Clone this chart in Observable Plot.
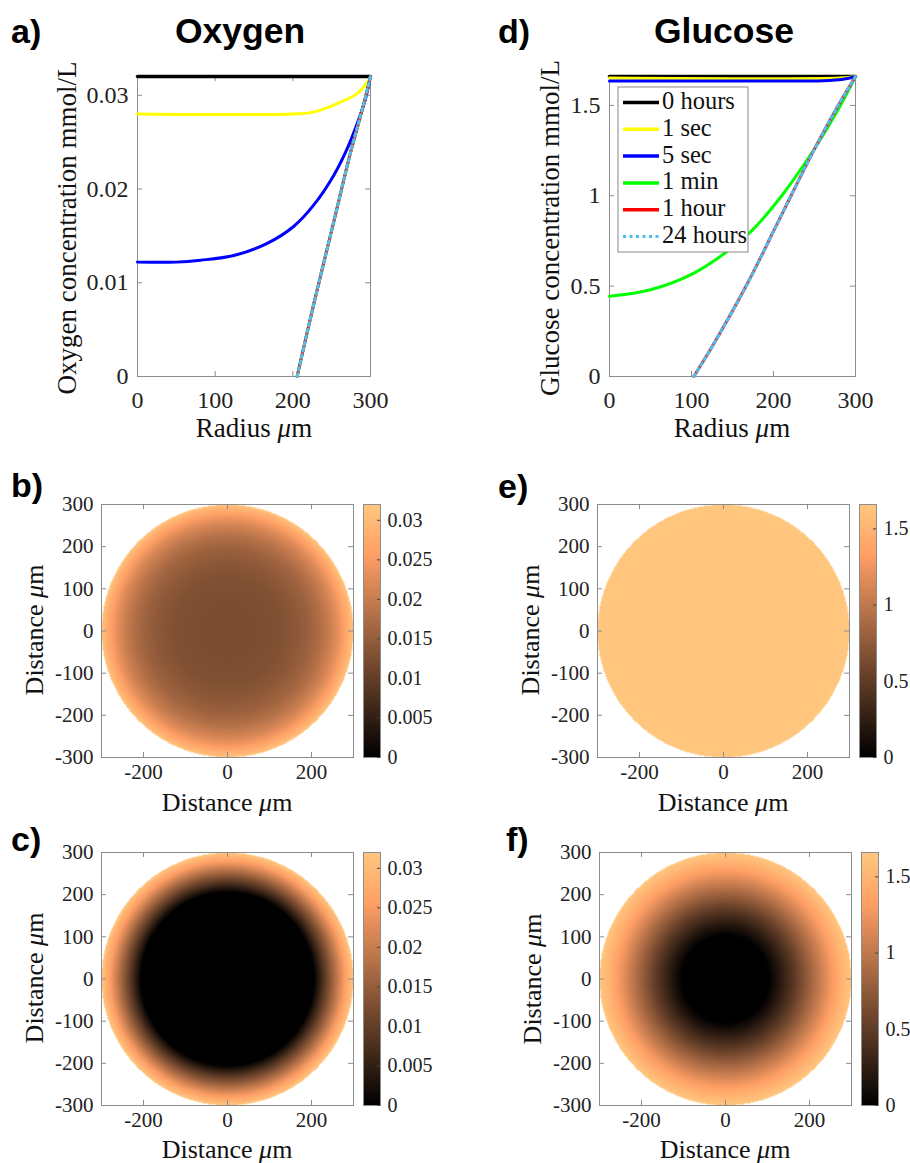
<!DOCTYPE html>
<html><head><meta charset="utf-8">
<script src="https://cdn.jsdelivr.net/npm/d3@7"></script>
<script src="https://cdn.jsdelivr.net/npm/@observablehq/plot@0.6"></script>
<style>
body{margin:0;background:#fff;}
#fig{position:relative;width:910px;height:1163px;overflow:hidden;background:#fff;}
</style>
</head><body><div id="fig"></div>
<script>
// ---------- Data ----------
const seriesLabels = ["0 hours", "1 sec", "5 sec", "1 min", "1 hour", "24 hours"];
const seriesColors = ["#000000", "#ffff00", "#0000ff", "#00ff00", "#ff0000", "#4dbeee"];

// Oxygen radial profiles (radius µm, mmol/L)
const oxyR_0h  = [0, 300];
const oxyV_0h  = [0.032, 0.032];
const oxyR_1s  = [0, 200, 227, 257, 283, 296, 300];
const oxyV_1s  = [0.0280, 0.0280, 0.0282, 0.0291, 0.0302, 0.0314, 0.032];
const oxyR_5s  = [0, 50, 81, 124, 167, 201, 227, 253, 270, 283, 293.5, 300];
const oxyV_5s  = [0.0122, 0.0122, 0.0124, 0.0129, 0.0142, 0.0160, 0.0183, 0.0215, 0.0243, 0.0270, 0.0296, 0.032];
const oxyR_1m  = [205.5, 227, 253, 274, 291.4, 300];
const oxyV_1m  = [0, 0.00775, 0.0166, 0.0238, 0.0291, 0.032];
const oxyR_1h  = [205.5, 227, 253, 274, 291.4, 300];
const oxyV_1h  = [0, 0.00775, 0.0166, 0.0238, 0.0291, 0.032];
const oxyR_24h = [205.5, 227, 253, 274, 291.4, 300];
const oxyV_24h = [0, 0.00775, 0.0166, 0.0238, 0.0291, 0.032];

// Glucose radial profiles (radius µm, mmol/L)
const gluR_0h  = [0, 300];
const gluV_0h  = [1.66, 1.66];
const gluR_1s  = [0, 280, 300];
const gluV_1s  = [1.652, 1.652, 1.66];
const gluR_5s  = [0, 200, 261, 285, 300];
const gluV_5s  = [1.635, 1.635, 1.637, 1.645, 1.66];
const gluR_1m  = [0, 50, 100, 143, 172, 210, 250, 278, 300];
const gluV_1m  = [0.444, 0.48, 0.565, 0.69, 0.80, 1.0, 1.26, 1.47, 1.66];
const gluR_1h  = [102.8, 127.2, 168, 208.5, 249, 277.7, 300];
const gluV_1h  = [0, 0.181, 0.513, 0.882, 1.25, 1.49, 1.66];
const gluR_24h = [102.8, 127.2, 168, 208.5, 249, 277.7, 300];
const gluV_24h = [0, 0.181, 0.513, 0.882, 1.25, 1.49, 1.66];

// Axis ticks
const radiusTicks = [0, 100, 200, 300];
const oxyTicks = [0, 0.01, 0.02, 0.03];
const gluTicks = [0, 0.5, 1, 1.5];
const distXTicks = [-200, 0, 200];
const distYTicks = [-300, -200, -100, 0, 100, 200, 300];
const oxyBarTicks = [0, 0.005, 0.01, 0.015, 0.02, 0.025, 0.03];
const gluBarTicks = [0, 0.5, 1, 1.5];
const oxyMax = 0.032;
const gluMax = 1.66;

// ---------- Helpers ----------
const fig = document.getElementById("fig");
const FRAME = "#8c8c8c";
const SERIF = "'Liberation Serif', 'Times New Roman', serif";
const SANS = "'Liberation Sans', Arial, sans-serif";
function axisStyle(size) {
  return {fontFamily: SERIF, fontSize: size + "px", color: "#222", background: "transparent", overflow: "visible"};
}
function copper(t) {
  t = Math.max(0, Math.min(1, t));
  return `rgb(${Math.round(Math.min(1, 1.25 * t) * 255)},${Math.round(0.7812 * t * 255)},${Math.round(0.4975 * t * 255)})`;
}
function place(el, left, top) {
  el.style.position = "absolute";
  el.style.left = left + "px";
  el.style.top = top + "px";
  el.style.maxWidth = "none";
  fig.appendChild(el);
}
function toRows(R, V) { return R.map((r, i) => ({r, v: V[i]})); }

function linePanel({left, top, w, h, yMax, yTicks, series}) {
  const mL = 70, mR = 14, mT = 14, mB = 45;
  const lineMarks = [];
  series.forEach(([R, V], i) => {
    const dash = i === 5 ? "3,3.5" : null;
    lineMarks.push(Plot.line(toRows(R, V), {x: "r", y: "v", stroke: seriesColors[i], strokeWidth: i === 0 ? 3.5 : 3, strokeDasharray: dash, curve: "catmull-rom"}));
  });
  const svg = Plot.plot({
    width: w + mL + mR, height: h + mT + mB,
    marginLeft: mL, marginRight: mR, marginTop: mT, marginBottom: mB,
    style: axisStyle(24),
    x: {domain: [0, 300]},
    y: {domain: [0, yMax]},
    marks: [
      Plot.frame({stroke: FRAME}),
      Plot.tickX(radiusTicks, {x: d => d, stroke: FRAME, insetTop: h - 5}),
      Plot.tickX(radiusTicks, {x: d => d, stroke: FRAME, insetBottom: h - 5}),
      Plot.tickY(yTicks, {y: d => d, stroke: FRAME, insetRight: w - 5}),
      Plot.tickY(yTicks, {y: d => d, stroke: FRAME, insetLeft: w - 5}),
      Plot.axisX({ticks: radiusTicks, tickSize: 0, tickPadding: 14, tickFormat: d => String(d), label: null}),
      Plot.axisY({ticks: yTicks, tickSize: 0, tickPadding: 9, tickFormat: d => String(d), label: null}),
      ...lineMarks
    ]
  });
  place(svg, left - mL, top - mT);
}

function heatPanel({left, top, R, V, max, cbLeft, cbTicks}) {
  const w = 252, h = 253, mL = 70, mR = 10, mT = 14, mB = 40;
  const prof = d3.scaleLinear(R, V).clamp(true);
  const colorOpt = {type: "linear", domain: [0, max], interpolate: copper};
  const svg = Plot.plot({
    width: w + mL + mR, height: h + mT + mB,
    marginLeft: mL, marginRight: mR, marginTop: mT, marginBottom: mB,
    style: axisStyle(21),
    x: {domain: [-300, 300]},
    y: {domain: [-300, 300]},
    color: colorOpt,
    marks: [
      Plot.raster({x1: -300, x2: 300, y1: -300, y2: 300, fill: (x, y) => {
        const r = Math.hypot(x, y);
        return r <= 300 ? prof(r) : NaN;
      }}),
      Plot.frame({stroke: FRAME}),
      Plot.tickX(distXTicks, {x: d => d, stroke: FRAME, insetTop: h - 5}),
      Plot.tickX(distXTicks, {x: d => d, stroke: FRAME, insetBottom: h - 5}),
      Plot.tickY(distYTicks, {y: d => d, stroke: FRAME, insetRight: w - 5}),
      Plot.tickY(distYTicks, {y: d => d, stroke: FRAME, insetLeft: w - 5}),
      Plot.axisX({ticks: distXTicks, tickSize: 0, tickPadding: 7, tickFormat: d => String(d), label: null}),
      Plot.axisY({ticks: distYTicks, tickSize: 0, tickPadding: 8, tickFormat: d => String(d), label: null})
    ]
  });
  place(svg, left - mL, top - mT);
  // colorbar
  const cw = 17, cmL = 4, cmR = 60;
  const cb = Plot.plot({
    width: cw + cmL + cmR, height: h + mT + mB,
    marginLeft: cmL, marginRight: cmR, marginTop: mT, marginBottom: mB,
    style: axisStyle(20),
    x: {domain: [0, 1], axis: null},
    y: {domain: [0, max]},
    color: colorOpt,
    marks: [
      Plot.raster({x1: 0, x2: 1, y1: 0, y2: max, fill: (x, y) => y}),
      Plot.frame({stroke: FRAME}),
      Plot.tickY(cbTicks, {y: d => d, stroke: "#444", insetLeft: cw - 3}),
      Plot.axisY({anchor: "right", ticks: cbTicks, tickSize: 0, tickPadding: 7, tickFormat: d => String(d), label: null})
    ]
  });
  place(cb, cbLeft - cmL, top - mT);
}

// ---------- Panels ----------
linePanel({left: 137, top: 76, w: 233, h: 300, yMax: oxyMax, yTicks: oxyTicks,
  series: [[oxyR_0h, oxyV_0h], [oxyR_1s, oxyV_1s], [oxyR_5s, oxyV_5s], [oxyR_1m, oxyV_1m], [oxyR_1h, oxyV_1h], [oxyR_24h, oxyV_24h]]});
linePanel({left: 609, top: 76, w: 246, h: 300, yMax: gluMax, yTicks: gluTicks,
  series: [[gluR_0h, gluV_0h], [gluR_1s, gluV_1s], [gluR_5s, gluV_5s], [gluR_1m, gluV_1m], [gluR_1h, gluV_1h], [gluR_24h, gluV_24h]]});

heatPanel({left: 101, top: 504, R: oxyR_5s, V: oxyV_5s, max: oxyMax, cbLeft: 363, cbTicks: oxyBarTicks});
heatPanel({left: 597, top: 504, R: gluR_5s, V: gluV_5s, max: gluMax, cbLeft: 859, cbTicks: gluBarTicks});
heatPanel({left: 101, top: 852, R: oxyR_24h, V: oxyV_24h, max: oxyMax, cbLeft: 363, cbTicks: oxyBarTicks});
heatPanel({left: 599, top: 852, R: gluR_24h, V: gluV_24h, max: gluMax, cbLeft: 861, cbTicks: gluBarTicks});

// ---------- Text overlay: panel letters, titles, axis titles, legend ----------
const ov = d3.select(fig).append("svg")
  .attr("width", 910).attr("height", 1163)
  .style("position", "absolute").style("left", "0px").style("top", "0px")
  .style("pointer-events", "none");

function bold(x, y, s, anchor = "start", size = 34) {
  ov.append("text").attr("x", x).attr("y", y).attr("text-anchor", anchor)
    .attr("font-family", SANS).attr("font-weight", "bold").attr("font-size", size).attr("fill", "#000").text(s);
}
function axTitle(x, y, parts, rotate, size = 27) {
  const t = ov.append("text").attr("font-family", SERIF).attr("font-size", size).attr("fill", "#111")
    .attr("text-anchor", "middle")
    .attr("transform", rotate ? `translate(${x},${y}) rotate(-90)` : `translate(${x},${y})`);
  parts.forEach(([s, it]) => t.append("tspan").attr("font-style", it ? "italic" : "normal").text(s));
}
const radiusTitle = [["Radius ", false], ["\u03bc", true], ["m", false]];
const distTitle = [["Distance ", false], ["\u03bc", true], ["m", false]];

bold(11, 43, "a)"); bold(240, 43, "Oxygen", "middle", 35.5);
bold(498, 43, "d)"); bold(724, 43, "Glucose", "middle", 35.5);
bold(11, 497, "b)"); bold(498, 498, "e)");
bold(11, 851, "c)"); bold(506, 851, "f)");

axTitle(76, 228, [["Oxygen concentration mmol/L", false]], true);
axTitle(559, 228, [["Glucose concentration mmol/L", false]], true);
axTitle(254, 437, radiusTitle, false);
axTitle(732, 437, radiusTitle, false);

axTitle(43, 630, distTitle, true, 26);
axTitle(539, 630, distTitle, true, 26);
axTitle(43, 978, distTitle, true, 26);
axTitle(541, 979, distTitle, true, 26);
axTitle(227, 811, distTitle, false, 26);
axTitle(723, 811, distTitle, false, 26);
axTitle(227, 1158, distTitle, false, 26);
axTitle(725, 1158, distTitle, false, 26);

// legend for panel d
const lg = ov.append("g");
lg.append("rect").attr("x", 618).attr("y", 87).attr("width", 130).attr("height", 165)
  .attr("fill", "#fff").attr("stroke", "#888").attr("stroke-width", 1);
seriesLabels.forEach((lab, i) => {
  const cy = 102.5 + i * 26.8;
  if (i === 5) {
    lg.append("line").attr("x1", 623).attr("x2", 659).attr("y1", cy).attr("y2", cy)
      .attr("stroke", seriesColors[5]).attr("stroke-width", 3).attr("stroke-dasharray", "3,3.5");
  } else {
    lg.append("line").attr("x1", 623).attr("x2", 659).attr("y1", cy).attr("y2", cy)
      .attr("stroke", seriesColors[i]).attr("stroke-width", 3.5);
  }
  lg.append("text").attr("x", 662).attr("y", cy + 6.5).attr("font-family", SERIF)
    .attr("font-size", 24.5).attr("fill", "#111").text(lab);
});
</script></body></html>
